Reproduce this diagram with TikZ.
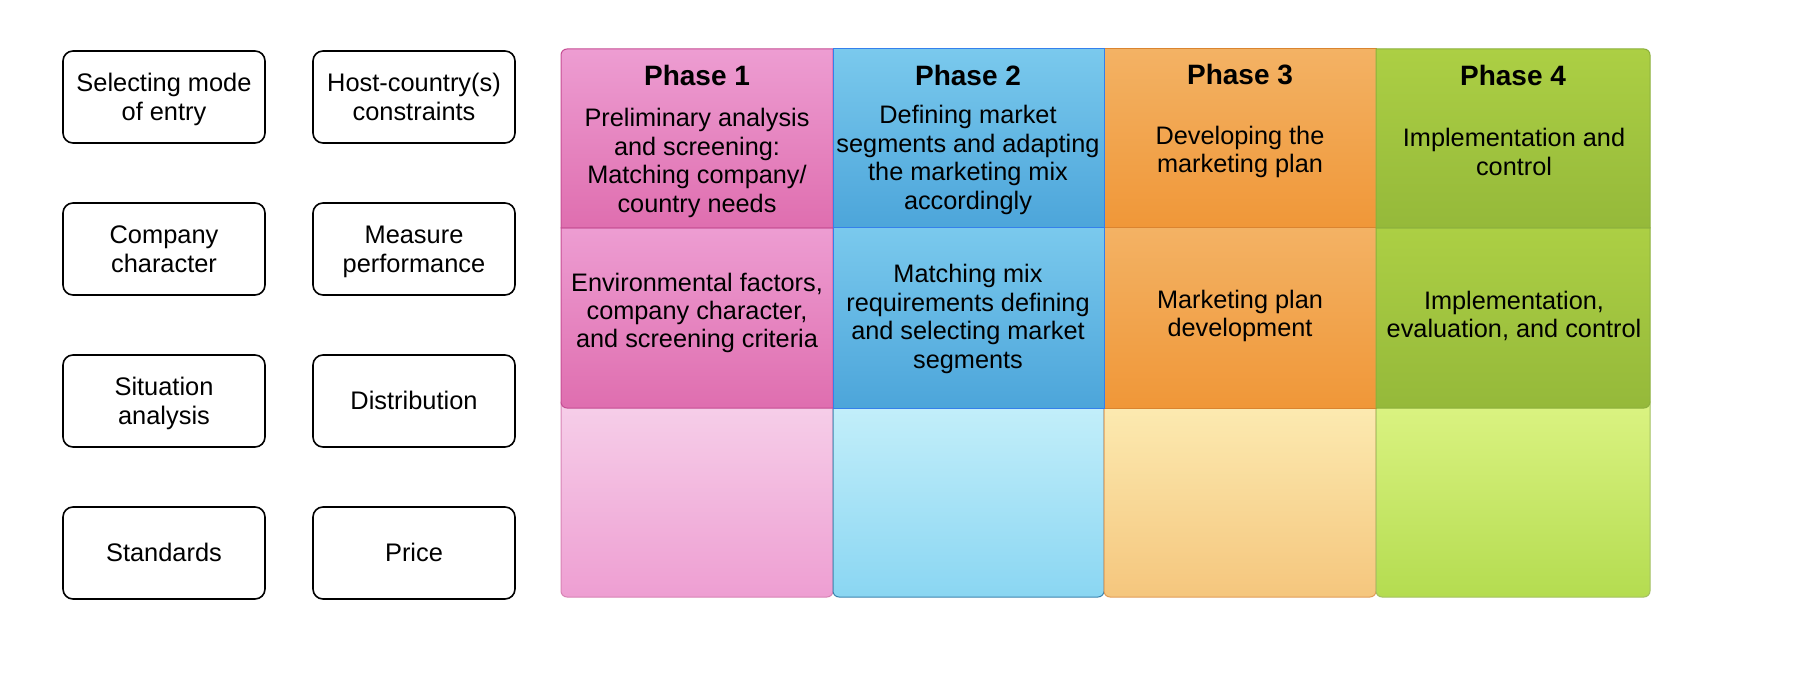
\documentclass[tikz,border=0pt]{standalone}
\usepackage{fontspec}
\setmainfont{Liberation Sans}
\definecolor{pkT}{RGB}{237,157,210}
\definecolor{pkB}{RGB}{223,110,175}
\definecolor{pkLT}{RGB}{246,207,233}
\definecolor{pkLB}{RGB}{238,158,210}
\definecolor{pkD}{RGB}{198,78,148}
\definecolor{blT}{RGB}{122,201,237}
\definecolor{blB}{RGB}{76,165,218}
\definecolor{blLT}{RGB}{196,239,250}
\definecolor{blLB}{RGB}{138,214,242}
\definecolor{blD}{RGB}{52,128,236}
\definecolor{orT}{RGB}{243,178,100}
\definecolor{orB}{RGB}{240,151,56}
\definecolor{orLT}{RGB}{252,235,178}
\definecolor{orLB}{RGB}{245,198,125}
\definecolor{orD}{RGB}{218,132,48}
\definecolor{grT}{RGB}{172,207,68}
\definecolor{grB}{RGB}{149,185,58}
\definecolor{grLT}{RGB}{219,243,130}
\definecolor{grLB}{RGB}{180,220,80}
\definecolor{grD}{RGB}{140,176,60}
\tikzset{
  sidebox/.style={draw=black, line width=0.8pt, rounded corners=5pt,
    minimum width=101pt, minimum height=46pt, inner sep=0pt, align=center,
    font=\fontsize{12.7}{14.5}\selectfont},
  sidetext/.style={inner sep=0pt, align=center, yshift=-1.4pt,
    font=\fontsize{12.7}{14.5}\selectfont},
  phasetitle/.style={inner sep=0pt, font=\fontsize{14}{16}\selectfont\bfseries},
  phasetext/.style={inner sep=0pt, align=center, font=\fontsize{12.65}{14.2}\selectfont},
  cellline/.style={line width=0.5pt}
}
\begin{document}
\begin{tikzpicture}[x=0.5pt,y=0.5pt]
\useasboundingbox (0,0) rectangle (1794,692);
% ---- left boxes
\node[sidebox] (b11) at (164,595) {};
\node[sidebox] (b12) at (414,595) {};
\node[sidebox] (b21) at (164,443) {};
\node[sidebox] (b22) at (414,443) {};
\node[sidebox] (b31) at (164,291) {};
\node[sidebox] (b32) at (414,291) {};
\node[sidebox] (b41) at (164,139) {};
\node[sidebox] (b42) at (414,139) {};
\node[sidetext] (l11) at (b11) {\strut Selecting mode\\of entry\strut};
\node[sidetext] (l12) at (b12) {\strut Host-country(s)\\constraints\strut};
\node[sidetext] (l21) at (b21) {\strut Company\\character\strut};
\node[sidetext] (l22) at (b22) {\strut Measure\\performance\strut};
\node[sidetext] (l31) at (b31) {\strut Situation\\analysis\strut};
\node[sidetext] (l32) at (b32) {\strut Distribution\strut};
\node[sidetext] (l41) at (b41) {\strut Standards\strut};
\node[sidetext] (l42) at (b42) {\strut Price\strut};
% ---- bottom pale row
\shadedraw[cellline, top color=pkLT, bottom color=pkLB, draw=pkD!70]
  (561,290) -- (561,101) arc[start angle=180,end angle=270,radius=3pt] -- (827,95) arc[start angle=270,end angle=360,radius=3pt] -- (833,290) -- cycle;
\shadedraw[cellline, top color=blLT, bottom color=blLB, draw=blB!80!black]
  (833,290) -- (833,101) arc[start angle=180,end angle=270,radius=3pt] -- (1098,95) arc[start angle=270,end angle=360,radius=3pt] -- (1104,290) -- cycle;
\shadedraw[cellline, top color=orLT, bottom color=orLB, draw=orD!80]
  (1104,290) -- (1104,101) arc[start angle=180,end angle=270,radius=3pt] -- (1370,95) arc[start angle=270,end angle=360,radius=3pt] -- (1376,290) -- cycle;
\shadedraw[cellline, top color=grLT, bottom color=grLB, draw=grD!80]
  (1376,290) -- (1376,101) arc[start angle=180,end angle=270,radius=3pt] -- (1644,95) arc[start angle=270,end angle=360,radius=3pt] -- (1650,290) -- cycle;
% ---- row 2
\shadedraw[cellline, top color=pkT, bottom color=pkB, draw=pkD]
  (561,464) -- (561,290) arc[start angle=180,end angle=270,radius=3pt] -- (833,284) -- (833,464) -- cycle;
\shadedraw[cellline, top color=orT, bottom color=orB, draw=orD]
  (1104,464) -- (1104,284) -- (1376,284) -- (1376,464) -- cycle;
\shadedraw[cellline, top color=grT, bottom color=grB, draw=grD]
  (1376,464) -- (1376,284) -- (1644,284) arc[start angle=270,end angle=360,radius=3pt] -- (1650,464) -- cycle;
\shadedraw[cellline, top color=blT, bottom color=blB, draw=blD]
  (833,464) -- (833,284) -- (1104,284) -- (1104,464) -- cycle;
% ---- row 1
\shadedraw[cellline, top color=pkT, bottom color=pkB, draw=pkD]
  (561,464) -- (561,637) arc[start angle=180,end angle=90,radius=3pt] -- (833,643) -- (833,464) -- cycle;
\shadedraw[cellline, top color=orT, bottom color=orB, draw=orD]
  (1104,464) -- (1104,643) -- (1376,643) -- (1376,464) -- cycle;
\shadedraw[cellline, top color=grT, bottom color=grB, draw=grD]
  (1376,464) -- (1376,643) -- (1644,643) arc[start angle=90,end angle=0,radius=3pt] -- (1650,464) -- cycle;
\shadedraw[cellline, top color=blT, bottom color=blB, draw=blD]
  (833,464) -- (833,643) -- (1104,643) -- (1104,464) -- cycle;
% ---- titles
\node[phasetitle] (t1) at (697,617) {Phase 1};
\node[phasetitle] (t2) at (968,617) {Phase 2};
\node[phasetitle] (t3) at (1240,617) {Phase 3};
\node[phasetitle] (t4) at (1513,617) {Phase 4};
% ---- row 1 texts
\node[phasetext] (a1) at (697,529) {Preliminary analysis\\and screening:\\Matching company/\\country needs};
\node[phasetext] (a2) at (968,532) {Defining market\\segments and adapting\\the marketing mix\\accordingly};
\node[phasetext] (a3) at (1240,540) {Developing the\\marketing plan};
\node[phasetext] (a4) at (1514,540) {Implementation and\\control};
% ---- row 2 texts
\node[phasetext] (c1) at (697,379) {Environmental factors,\\company character,\\and screening criteria};
\node[phasetext] (c2) at (968,373) {Matching mix\\requirements defining\\and selecting market\\segments};
\node[phasetext] (c3) at (1240,376) {Marketing plan\\development};
\node[phasetext] (c4) at (1514,376) {Implementation,\\evaluation, and control};
\end{tikzpicture}
\end{document}
